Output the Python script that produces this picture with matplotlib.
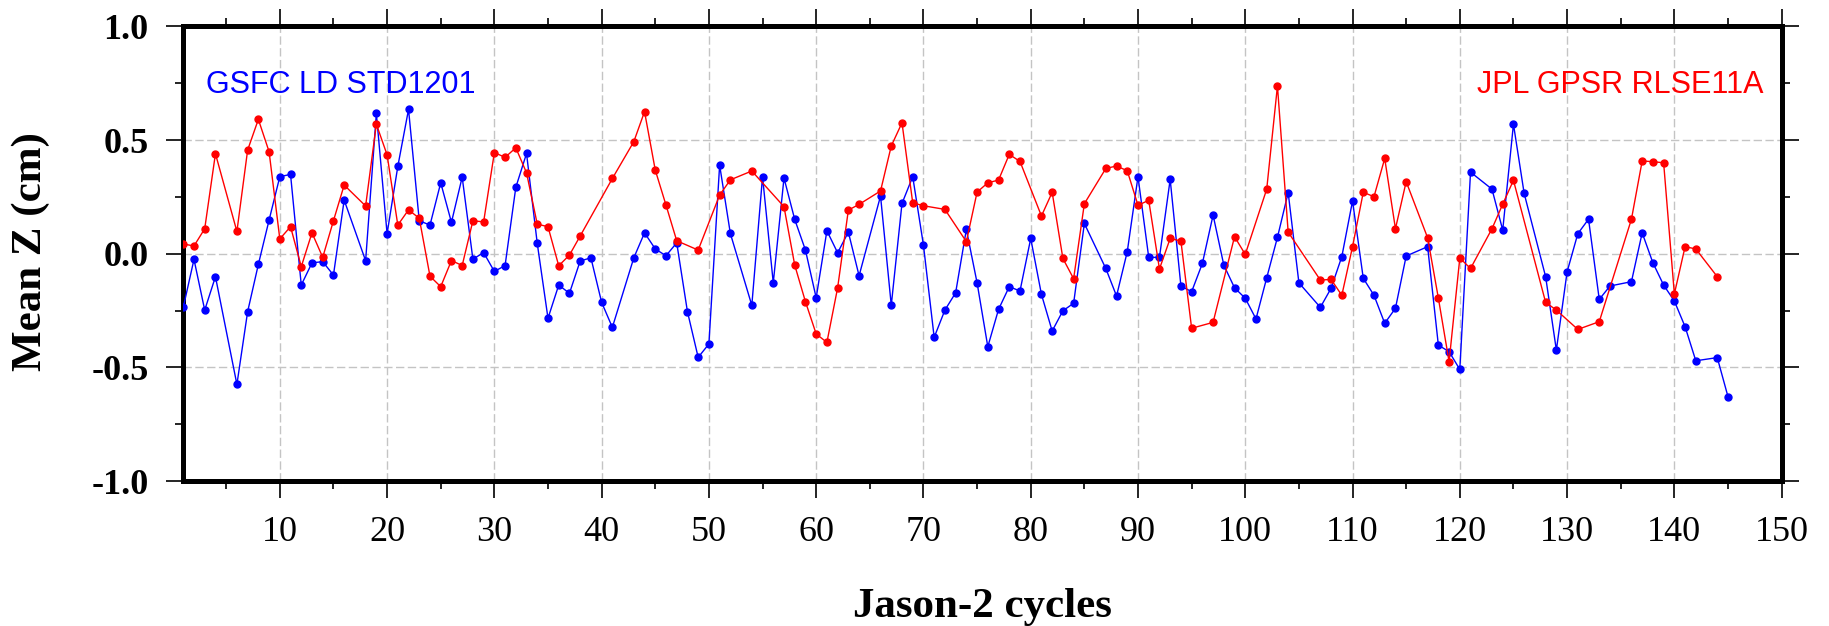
"""Mean Z of Jason-2 orbits: GSFC vs JPL, per cycle."""

import matplotlib

matplotlib.use("Agg")

import matplotlib.pyplot as plt  # noqa: E402
from matplotlib.ticker import MultipleLocator  # noqa: E402

# GSFC LD STD1201 (blue)
gsfc_cycles = [
    1, 2, 3, 4, 6, 7, 8, 9, 10, 11, 12, 13, 14, 15, 16, 18, 19, 20, 21, 22,
    23, 24, 25, 26, 27, 28, 29, 30, 31, 32, 33, 34, 35, 36, 37, 38, 39, 40,
    41, 43, 44, 45, 46, 47, 48, 49, 50, 51, 52, 54, 55, 56, 57, 58, 59, 60,
    61, 62, 63, 64, 66, 67, 68, 69, 70, 71, 72, 73, 74, 75, 76, 77, 78, 79,
    80, 81, 82, 83, 84, 85, 87, 88, 89, 90, 91, 92, 93, 94, 95, 96, 97, 98,
    99, 100, 101, 102, 103, 104, 105, 107, 108, 109, 110, 111, 112, 113, 114,
    115, 117, 118, 119, 120, 121, 123, 124, 125, 126, 128, 129, 130, 131, 132,
    133, 134, 136, 137, 138, 139, 140, 141, 142, 144, 145,
]
gsfc_mean_z = [
    -0.236, -0.025, -0.248, -0.101, -0.575, -0.255, -0.047, 0.148, 0.339, 0.349,
    -0.138, -0.040, -0.035, -0.094, 0.236, -0.031, 0.617, 0.088, 0.384, 0.635,
    0.145, 0.126, 0.312, 0.138, 0.337, -0.024, 0.005, -0.078, -0.052, 0.292,
    0.441, 0.045, -0.284, -0.138, -0.174, -0.032, -0.018, -0.214, -0.324,
    -0.018, 0.092, 0.021, -0.009, 0.048, -0.255, -0.456, -0.397, 0.390, 0.089,
    -0.227, 0.339, -0.128, 0.333, 0.151, 0.016, -0.194, 0.101, 0.004, 0.095,
    -0.097, 0.254, -0.227, 0.221, 0.339, 0.038, -0.368, -0.248, -0.172, 0.107,
    -0.128, -0.409, -0.245, -0.145, -0.164, 0.067, -0.179, -0.340, -0.251,
    -0.218, 0.133, -0.065, -0.186, 0.009, 0.339, -0.016, -0.016, 0.327, -0.142,
    -0.167, -0.043, 0.170, -0.050, -0.150, -0.196, -0.287, -0.106, 0.072,
    0.269, -0.128, -0.236, -0.152, -0.013, 0.232, -0.108, -0.183, -0.306,
    -0.240, -0.010, 0.031, -0.402, -0.431, -0.509, 0.359, 0.284, 0.104, 0.570,
    0.265, -0.101, -0.424, -0.080, 0.088, 0.152, -0.201, -0.142, -0.123, 0.092,
    -0.040, -0.138, -0.208, -0.321, -0.471, -0.457, -0.629,
]

# JPL GPSR RLSE11A (red)
jpl_cycles = [
    1, 2, 3, 4, 6, 7, 8, 9, 10, 11, 12, 13, 14, 15, 16, 18, 19, 20, 21, 22,
    23, 24, 25, 26, 27, 28, 29, 30, 31, 32, 33, 34, 35, 36, 37, 38, 41, 43,
    44, 45, 46, 47, 49, 51, 52, 54, 57, 58, 59, 60, 61, 62, 63, 64, 66, 67,
    68, 69, 70, 72, 74, 75, 76, 77, 78, 79, 81, 82, 83, 84, 85, 87, 88, 89,
    90, 91, 92, 93, 94, 95, 97, 99, 100, 102, 103, 104, 107, 108, 109, 110,
    111, 112, 113, 114, 115, 117, 118, 119, 120, 121, 123, 124, 125, 128, 129,
    131, 133, 136, 137, 138, 139, 140, 141, 142, 144,
]
jpl_mean_z = [
    0.043, 0.034, 0.110, 0.440, 0.098, 0.456, 0.591, 0.449, 0.065, 0.119,
    -0.057, 0.092, -0.016, 0.145, 0.302, 0.210, 0.570, 0.435, 0.126, 0.193,
    0.156, -0.099, -0.145, -0.030, -0.052, 0.145, 0.140, 0.445, 0.424, 0.466,
    0.356, 0.130, 0.119, -0.053, -0.006, 0.078, 0.331, 0.493, 0.625, 0.368,
    0.214, 0.057, 0.016, 0.258, 0.325, 0.364, 0.207, -0.050, -0.211, -0.353,
    -0.390, -0.150, 0.192, 0.217, 0.276, 0.474, 0.576, 0.224, 0.211, 0.195,
    0.053, 0.271, 0.312, 0.324, 0.437, 0.406, 0.166, 0.270, -0.021, -0.110,
    0.220, 0.375, 0.386, 0.365, 0.213, 0.235, -0.067, 0.067, 0.056, -0.328,
    -0.302, 0.075, -0.003, 0.284, 0.738, 0.095, -0.116, -0.113, -0.183, 0.031,
    0.270, 0.251, 0.419, 0.110, 0.317, 0.070, -0.195, -0.475, -0.019, -0.065,
    0.110, 0.218, 0.323, -0.214, -0.248, -0.333, -0.299, 0.152, 0.408, 0.405,
    0.400, -0.177, 0.031, 0.021, -0.101,
]

plt.rcParams["axes.unicode_minus"] = False

fig = plt.figure(figsize=(18.29, 6.26), dpi=100)
ax = fig.add_axes([0.1002, 0.2316, 0.8739, 0.7262])

ax.plot(gsfc_cycles, gsfc_mean_z, color="#0000ff", linewidth=1.0,
        marker="o", markersize=5, zorder=3)
ax.plot(jpl_cycles, jpl_mean_z, color="#ff0000", linewidth=1.0,
        marker="o", markersize=5, zorder=4)

ax.set_xlim(1, 150)
ax.set_ylim(-1.0, 1.0)
ax.xaxis.set_major_locator(MultipleLocator(10))
ax.xaxis.set_minor_locator(MultipleLocator(5))
ax.yaxis.set_major_locator(MultipleLocator(0.5))
ax.yaxis.set_minor_locator(MultipleLocator(0.25))
ax.set_xticks(range(10, 151, 10))
ax.set_yticks([-1.0, -0.5, 0.0, 0.5, 1.0])
ax.set_yticklabels(["-1.0", "-0.5", "0.0", "0.5", "1.0"])

ax.grid(True, which="major", color="#c4c4c4", linewidth=1.0,
        linestyle=(0, (6, 2.5)))
ax.set_axisbelow(True)

for spine in ax.spines.values():
    spine.set_linewidth(3.6)
    spine.set_color("black")

ax.tick_params(which="both", direction="out", top=True, right=True,
               color="black", width=1.2)
ax.tick_params(which="major", length=12, pad=13)
ax.tick_params(which="minor", length=6)
ax.tick_params(axis="y", labelsize=26)
ax.tick_params(axis="x", labelsize=26)
for label in ax.get_yticklabels():
    label.set_fontfamily("Liberation Serif")
    label.set_fontweight("bold")
for label in ax.get_xticklabels():
    label.set_fontfamily("Liberation Serif")

ax.set_xlabel("Jason-2 cycles", fontsize=31, fontweight="bold",
              family="Liberation Serif", va="baseline")
ax.xaxis.set_label_coords(0.5, -0.299)
ax.set_ylabel("Mean Z (cm)", fontsize=31, fontweight="bold",
              family="Liberation Serif")
ax.yaxis.set_label_coords(-0.0834, 0.505)

ax.text(0.0142, 0.853, "GSFC LD STD1201", transform=ax.transAxes,
        color="#0000ff", fontsize=22, family="Liberation Sans",
        ha="left", va="baseline")
ax.text(0.9885, 0.853, "JPL GPSR RLSE11A", transform=ax.transAxes,
        color="#ff0000", fontsize=22, family="Liberation Sans",
        ha="right", va="baseline")

fig.savefig("out.png", dpi=100)
